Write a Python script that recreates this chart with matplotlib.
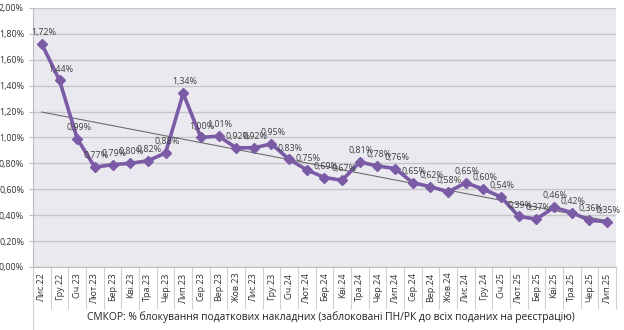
import numpy as np
import matplotlib.pyplot as plt
from matplotlib.ticker import FuncFormatter
from matplotlib.lines import Line2D

plt.rcParams['font.family'] = ['Open Sans', 'DejaVu Sans']

months = ['Лис.22', 'Гру.22', 'Січ.23', 'Лют.23', 'Бер.23', 'Кві.23', 'Тра.23', 'Чер.23',
          'Лип.23', 'Сер.23', 'Вер.23', 'Жов.23', 'Лис.23', 'Гру.23', 'Січ.24', 'Лют.24',
          'Бер.24', 'Кві.24', 'Тра.24', 'Чер.24', 'Лип.24', 'Сер.24', 'Вер.24', 'Жов.24',
          'Лис.24', 'Гру.24', 'Січ.25', 'Лют.25', 'Бер.25', 'Кві.25', 'Тра.25', 'Чер.25',
          'Лип.25']
blocked_pct = [1.72, 1.44, 0.99, 0.77, 0.79, 0.80, 0.82, 0.88, 1.34, 1.00, 1.01, 0.92,
               0.92, 0.95, 0.83, 0.75, 0.69, 0.67, 0.81, 0.78, 0.76, 0.65, 0.62, 0.58,
               0.65, 0.60, 0.54, 0.39, 0.37, 0.46, 0.42, 0.36, 0.35]
title = 'СМКОР: % блокування податкових накладних (заблоковані ПН/РК до всіх поданих на реєстрацію)'

purple = '#7B5BA6'

fig = plt.figure(figsize=(6.24, 3.3), dpi=100)
ax = fig.add_axes([0.053, 0.191, 0.934, 0.785])
ax.set_facecolor('#EBE9F0')

x = np.arange(len(months))
y = np.array(blocked_pct)

# linear trend line
k, b = np.polyfit(x, y, 1)
ax.plot(x, k * x + b, color='#6E6E6E', lw=0.8, zorder=3)

ax.plot(x, y, color=purple, lw=2.6, marker='D', markersize=5, zorder=4)

for xi, yi in zip(x, y):
    ax.annotate(f'{yi:.2f}%'.replace('.', ','), (xi, yi), xytext=(1, 5),
                textcoords='offset points', ha='center', va='bottom',
                fontsize=6.4, color='#404040', zorder=5)

ax.set_xlim(-0.5, len(months) - 0.5)
ax.set_ylim(0, 2.0)
ax.set_yticks(np.arange(0, 2.01, 0.2))
ax.yaxis.set_major_formatter(FuncFormatter(lambda v, p: f'{v:.2f}%'.replace('.', ',')))
ax.grid(axis='y', color='#C6C6CA', lw=1.0)
ax.set_axisbelow(True)

ax.set_xticks(x)
ax.set_xticklabels(months, rotation=90, fontsize=6.5, color='#333333')
ax.set_xticks(np.arange(-0.5, len(months), 1), minor=True)
ax.tick_params(axis='x', which='major', length=0, pad=4)
ax.tick_params(axis='x', which='minor', length=30, color='#D0D0D0', width=0.8)
ax.tick_params(axis='y', length=3, labelsize=6.4, labelcolor='#333333', color='#BBBBBB')

for s in ['top', 'right']:
    ax.spines[s].set_visible(False)
ax.spines['left'].set_color('#BBBBBB')
ax.spines['bottom'].set_color('#BBBBBB')

fig.add_artist(Line2D([0.053, 0.053], [0.0, 0.191], color='#D0D0D0', lw=0.8))

fig.text(0.53, 0.022, title, ha='center', va='bottom', fontsize=7.4, color='#222222')

fig.savefig('out.png', dpi=100, facecolor='white')
